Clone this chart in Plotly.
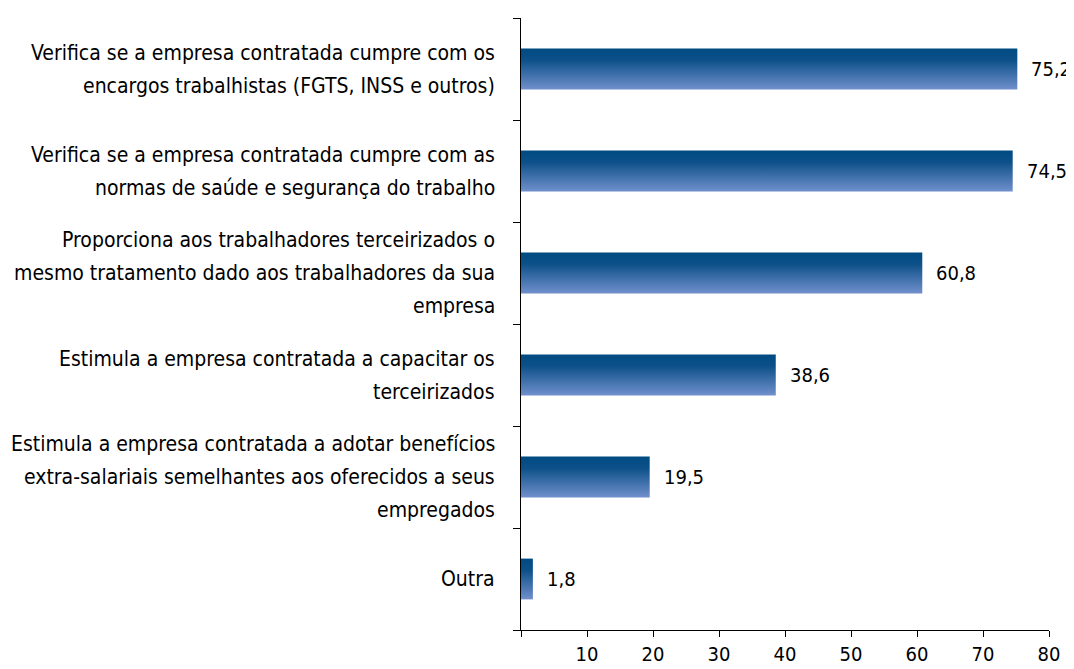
import plotly.graph_objects as go

categories = [
    "Verifica se a empresa contratada cumpre com os<br>encargos trabalhistas (FGTS, INSS e outros)",
    "Verifica se a empresa contratada cumpre com as<br>normas de saúde e segurança do trabalho",
    "Proporciona aos trabalhadores terceirizados o<br>mesmo tratamento dado aos trabalhadores da sua<br>empresa",
    "Estimula a empresa contratada a capacitar os<br>terceirizados",
    "Estimula a empresa contratada a adotar benefícios<br>extra-salariais semelhantes aos oferecidos a seus<br>empregados",
    "Outra",
]
values = [75.2, 74.5, 60.8, 38.6, 19.5, 1.8]
x_ticks = [0, 10, 20, 30, 40, 50, 60, 70, 80]
x_ticktext = ["", "10", "20", "30", "40", "50", "60", "70", "80"]

FONT = "DejaVu Sans Condensed, Liberation Sans Narrow, sans-serif"
half = 0.2
LINE_H = 33
grad = [[0.0, "#7090cc"], [0.72, "#0d5089"], [1.0, "#004a82"]]

fig = go.Figure()
for i, v in enumerate(values):
    fig.add_trace(go.Scatter(
        x=[0, v, v, 0, 0],
        y=[i - half, i - half, i + half, i + half, i - half],
        mode="lines", line=dict(width=0),
        fill="toself",
        fillgradient=dict(type="vertical", colorscale=grad),
        hoverinfo="skip", showlegend=False,
    ))

# value labels
for i, v in enumerate(values):
    fig.add_annotation(
        text=f"{v:.1f}".replace(".", ","), x=v, y=i, xref="x", yref="y",
        xanchor="left", yanchor="middle", xshift=12, showarrow=False,
        font=dict(family=FONT, size=20, color="#000"),
    )

# category labels, one annotation per line for the wider line spacing
for i, cat in enumerate(categories):
    lines = cat.split("<br>")
    n = len(lines)
    for k, ln in enumerate(lines):
        fig.add_annotation(
            text=ln, xref="paper", x=0, yref="y", y=i,
            xanchor="right", yanchor="middle", xshift=-24,
            yshift=((n - 1) / 2 - k) * LINE_H,
            showarrow=False, align="right",
            font=dict(family=FONT, size=21, color="#000"),
        )

fig.update_layout(
    width=1074, height=669,
    margin=dict(l=513, r=33, t=10, b=47),
    plot_bgcolor="white", paper_bgcolor="white",
    font=dict(family=FONT, size=21, color="#000"),
)
fig.update_xaxes(
    range=[0, 80], tickvals=x_ticks, ticktext=x_ticktext,
    ticks="outside", ticklen=6, tickcolor="#000", tickwidth=1,
    showline=True, linecolor="#000", linewidth=1,
    showgrid=False, zeroline=False, automargin=False,
    tickfont=dict(family=FONT, size=20),
)
fig.update_yaxes(
    range=[len(values) - 0.5, -0.5],
    tickvals=list(range(len(values))), showticklabels=False,
    ticks="", showline=True, linecolor="#000", linewidth=1,
    showgrid=False, zeroline=False, automargin=False,
    minor=dict(tickmode="linear", tick0=0.5, dtick=1, ticks="outside",
               ticklen=7, tickcolor="#000", tickwidth=1, showgrid=False),
)

fig.write_html("out.html")
